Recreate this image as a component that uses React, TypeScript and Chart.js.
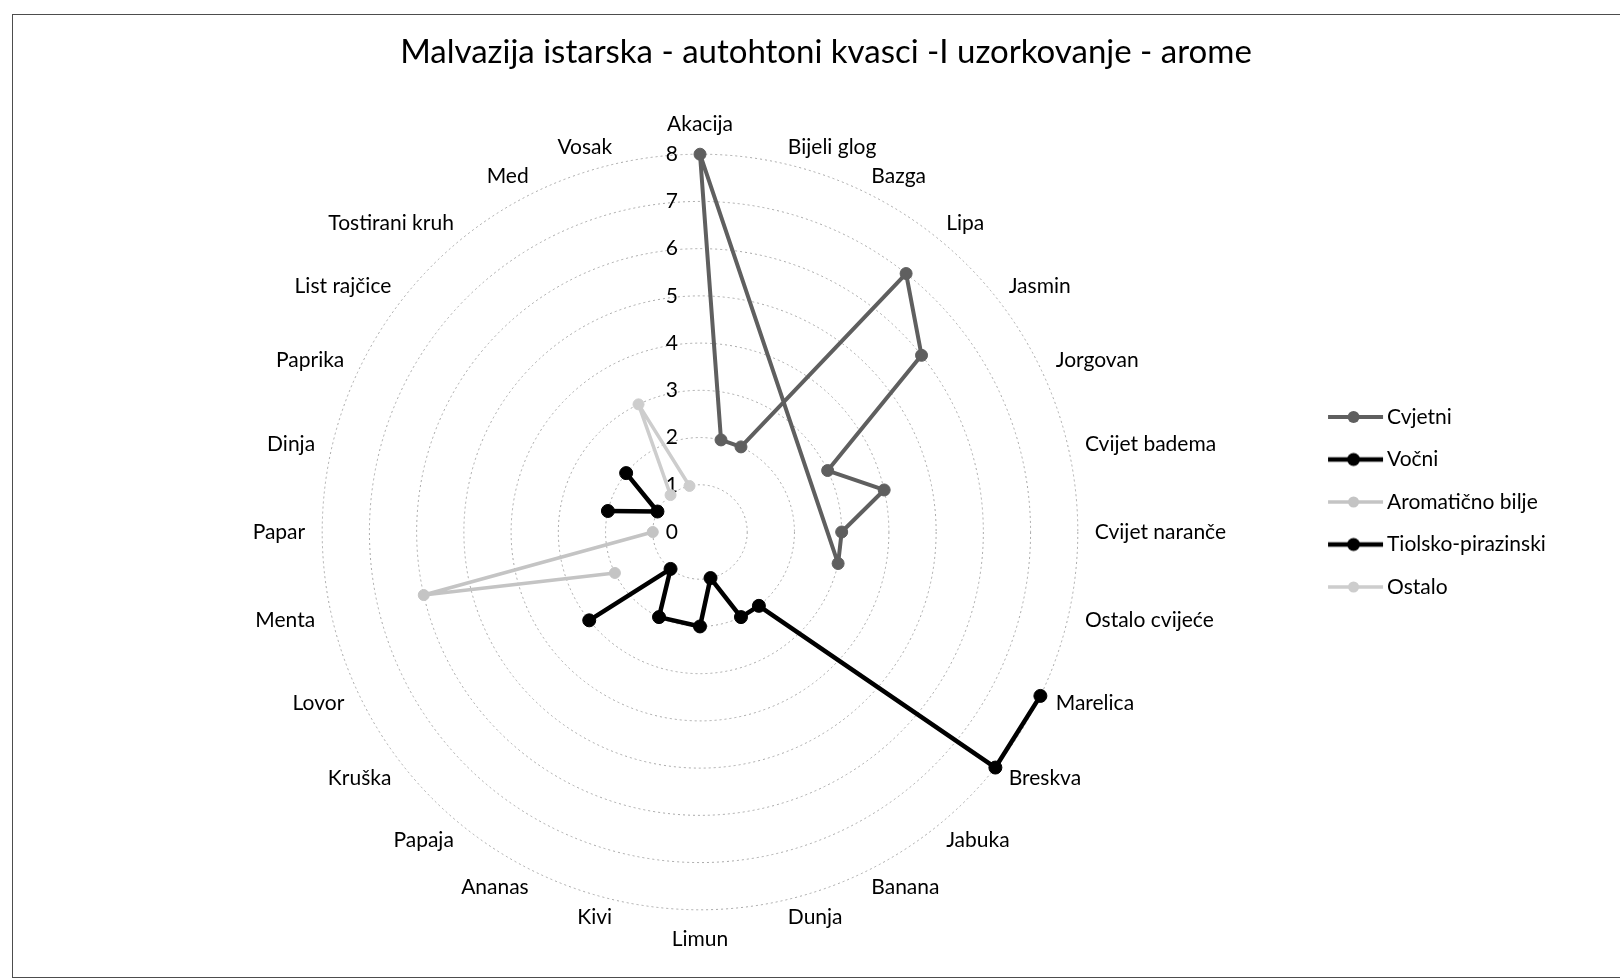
import React, { useEffect, useRef } from 'react';
import { Chart, registerables } from 'chart.js';

Chart.register(...registerables);

const CATEGORIES = [
  'Akacija', 'Bijeli glog', 'Bazga', 'Lipa', 'Jasmin', 'Jorgovan', 'Cvijet badema',
  'Cvijet naranče', 'Ostalo cvijeće', 'Marelica', 'Breskva', 'Jabuka', 'Banana', 'Dunja',
  'Limun', 'Kivi', 'Ananas', 'Papaja', 'Kruška', 'Lovor', 'Menta', 'Papar', 'Dinja',
  'Paprika', 'List rajčice', 'Tostirani kruh', 'Med', 'Vosak',
];

const N = null;
const CVJETNI = [8, 2, 2, 7, 6, 3, 4, 3, 3, N, N, N, N, N, N, N, N, N, N, N, N, N, N, N, N, N, N, N];
const VOCNI = [N, N, N, N, N, N, N, N, N, 8, 8, 2, 2, 1, 2, N, 2, 1, 3, N, N, N, N, N, N, N, N, N];
const AROMATICNO = [N, N, N, N, N, N, N, N, N, N, N, N, N, N, N, N, N, N, N, 2, 6, 1, N, N, N, N, N, N];
const TIOLSKO = [N, N, N, N, N, N, N, N, N, N, N, N, N, N, N, N, N, N, N, N, N, N, 2, 1, 2, N, N, N];
const OSTALO = [N, N, N, N, N, N, N, N, N, N, N, N, N, N, N, N, N, N, N, N, N, N, N, N, N, 1, 3, 1];

const SERIES_NAMES = ['Cvjetni', 'Vočni', 'Aromatično bilje', 'Tiolsko-pirazinski', 'Ostalo'];
const TICKS = [0, 1, 2, 3, 4, 5, 6, 7, 8];
const TITLE = 'Malvazija istarska - autohtoni kvasci -I uzorkovanje - arome';

const FONT = 'Lato';
const LEGEND_FONT = 21;
const LEGEND_PAD = 21.5;
const LEGEND_W = 252;
const LEGEND_TEXT_X = 1387;
const CENTER_X = 700;

function makeMarker(color: string, lw: number, r: number, off: number) {
  const c = document.createElement('canvas');
  c.width = 120;
  c.height = 20;
  const g = c.getContext('2d')!;
  const x0 = 60 + off - 59;
  const x1 = 60 + off - 4;
  g.strokeStyle = color;
  g.lineWidth = lw;
  g.beginPath();
  g.moveTo(x0, 10);
  g.lineTo(x1, 10);
  g.stroke();
  g.fillStyle = color;
  g.beginPath();
  g.arc((x0 + x1) / 2 - 2, 10, r, 0, Math.PI * 2);
  g.fill();
  return c;
}

const openLoopPlugin = {
  id: 'openLoop',
  afterDatasetsUpdate(chart: any) {
    chart.data.datasets.forEach((ds: any, i: number) => {
      const meta = chart.getDatasetMeta(i);
      const line = meta.dataset;
      if (line && ds.closed === false) {
        line._loop = false;
        line._fullLoop = false;
        line._segments = undefined;
        line._path = undefined;
      }
    });
  },
};

const labelCenterPlugin = {
  id: 'labelCenter',
  afterLayout(chart: any) {
    const scale = chart.scales.r;
    const items = scale && scale._pointLabelItems;
    if (!items) return;
    items.forEach((it: any, i: number) => {
      let deg = Math.round((scale.getIndexAngle(i) * 180) / Math.PI) % 360;
      if (deg < 0) deg += 360;
      if (deg === 0 || deg === 180 || deg === 90 || deg === 270) return;
      const h = it.bottom - it.top;
      if (deg < 90 || deg > 270) it.y += h / 2;
      else it.y -= h / 2;
      it.top = it.y;
      it.bottom = it.y + h;
    });
  },
};

const tickLabelPlugin = {
  id: 'tickLabels',
  beforeDatasetsDraw(chart: any) {
    const scale = chart.scales.r;
    const ctx = chart.ctx;
    ctx.save();
    ctx.font = `21px ${FONT}`;
    ctx.fillStyle = '#000';
    ctx.textAlign = 'right';
    ctx.textBaseline = 'middle';
    TICKS.forEach((v) => {
      const d = scale.getDistanceFromCenterForValue(v);
      ctx.fillText(String(v), scale.xCenter - 22, scale.yCenter - d);
    });
    ctx.restore();
  },
};

export default function App() {
  const ref = useRef<HTMLCanvasElement>(null);

  useEffect(() => {
    const canvas = ref.current!;
    const mctx = canvas.getContext('2d')!;
    mctx.font = `${LEGEND_FONT}px ${FONT}`;
    const maxText = Math.max(...SERIES_NAMES.map((s) => mctx.measureText(s).width));
    const boxW = LEGEND_W - LEGEND_PAD - LEGEND_FONT / 2 - maxText - 10;
    const legendLeft = LEGEND_TEXT_X - LEGEND_FONT / 2 - boxW - LEGEND_PAD;
    const padLeft = 2 * CENTER_X - legendLeft;
    const padRight = 1620 - legendLeft - LEGEND_W;
    const off = boxW / 2 + LEGEND_FONT / 2;

    const styles = [
      { color: '#5f5f5f', width: 4, radius: 6, closed: true },
      { color: '#000000', width: 4.5, radius: 6.5, closed: false },
      { color: '#c4c4c4', width: 3.5, radius: 5.5, closed: false },
      { color: '#000000', width: 4.5, radius: 6.5, closed: false },
      { color: '#cdcdcd', width: 3.5, radius: 5.5, closed: false },
    ];
    const values = [CVJETNI, VOCNI, AROMATICNO, TIOLSKO, OSTALO];
    const markers = styles.map((s) => makeMarker(s.color, s.width, s.radius, off));

    const chart = new Chart(canvas, {
      type: 'radar',
      data: {
        labels: CATEGORIES,
        datasets: values.map((data, i) => ({
          label: SERIES_NAMES[i],
          data,
          borderColor: styles[i].color,
          backgroundColor: styles[i].color,
          pointBackgroundColor: styles[i].color,
          pointBorderColor: styles[i].color,
          pointBorderWidth: 1,
          borderWidth: styles[i].width,
          borderJoinStyle: 'round',
          borderCapStyle: 'round',
          pointRadius: styles[i].radius,
          spanGaps: true,
          fill: false,
          tension: 0,
          closed: styles[i].closed,
        })) as any,
      },
      options: {
        animation: false,
        responsive: false,
        events: [],
        layout: { padding: { left: padLeft, right: padRight, top: 0, bottom: 25.6 } },
        scales: {
          r: {
            min: 0,
            max: 8,
            ticks: { display: false, stepSize: 1 },
            grid: { circular: true, color: '#a8a8a8', lineWidth: 1 },
            border: { dash: [2, 3] },
            angleLines: { display: false },
            pointLabels: { font: { size: 21, family: FONT }, color: '#000', padding: 17 },
          },
        },
        plugins: {
          title: {
            display: true,
            text: TITLE,
            color: '#000',
            font: { size: 33, family: FONT, weight: 'normal' },
            padding: { top: 32.2, bottom: 40.2 },
          },
          legend: {
            position: 'right',
            align: 'start',
            title: { display: true, text: ' ', font: { size: 10 }, padding: { top: 373, bottom: 0 } },
            labels: {
              usePointStyle: true,
              pointStyleWidth: boxW,
              padding: LEGEND_PAD,
              color: '#000',
              font: { size: LEGEND_FONT, family: FONT },
              generateLabels: () =>
                SERIES_NAMES.map((name, i) => ({
                  text: name,
                  pointStyle: markers[i],
                  fillStyle: 'transparent',
                  strokeStyle: 'transparent',
                  lineWidth: 0,
                  hidden: false,
                  datasetIndex: i,
                  fontColor: '#000',
                })),
            },
          },
          tooltip: { enabled: false },
        },
      } as any,
      plugins: [openLoopPlugin, labelCenterPlugin, tickLabelPlugin] as any,
    });
    return () => chart.destroy();
  }, []);

  return (
    <div style={{ position: 'fixed', left: 0, top: 0, width: 1620, height: 979, background: '#fff', overflow: 'hidden' }}>
      <div
        style={{
          position: 'absolute',
          left: 12,
          top: 14,
          width: 1700,
          height: 964,
          border: '1px solid #4d4d4d',
          boxSizing: 'border-box',
        }}
      />
      <canvas ref={ref} width={1620} height={979} style={{ position: 'absolute', left: 0, top: 0 }} />
    </div>
  );
}
